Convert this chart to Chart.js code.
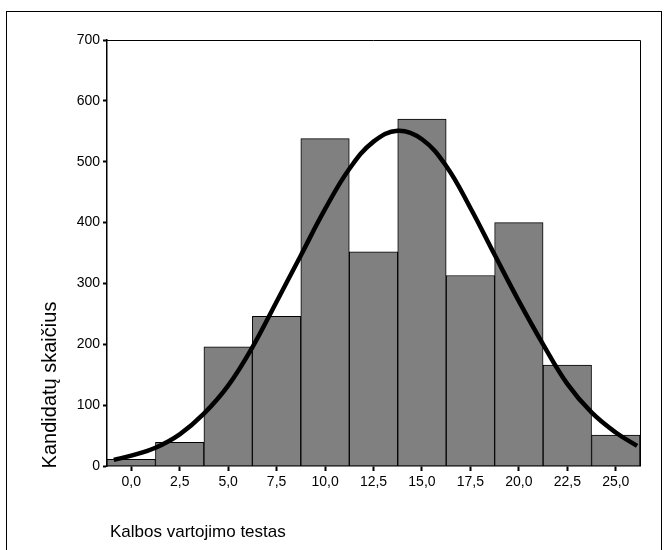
<!DOCTYPE html>
<html>
<head>
<meta charset="utf-8">
<script src="https://cdn.jsdelivr.net/npm/chart.js@4.4.0/dist/chart.umd.min.js"></script>
<style>
	html, body { margin: 0; padding: 0; background: #ffffff; }
	#wrap { position: relative; width: 667px; height: 550px; }
	#frame { position: absolute; left: 6px; top: 11px; width: 656px; height: 560px; border: 1px solid #000; box-sizing: border-box; }
	canvas { position: absolute; left: 0; top: 0; }
</style>
</head>
<body>
<div id="wrap">
	<div id="frame"></div>
	<canvas id="hist" width="667" height="550"></canvas>
</div>
<script>
// histogramos stulpeliai (centrai) ir dažniai
const binCenters = [0, 2.5, 5, 7.5, 10, 12.5, 15, 17.5, 20, 22.5, 25];
const binCounts = [11, 39, 196, 246, 538, 352, 570, 313, 400, 166, 51];

// normaliojo skirstinio kreivė, nuskaityta nuo paveikslo
const curveX = [-0.9, 0, 1.25, 2.5, 3.75, 5, 6.25, 7.5, 8.75, 10, 11.25, 12.5, 13.75, 15, 16.25, 17.5, 18.75, 20, 21.25, 22.5, 23.75, 25, 26.1];
const curveY = [10, 17, 30, 52, 86, 132, 195, 270, 346, 422, 488, 533, 551, 537, 493, 424, 347, 271, 200, 135, 88, 55, 33];

const xTicks = [0, 2.5, 5, 7.5, 10, 12.5, 15, 17.5, 20, 22.5, 25];
const yTicks = [0, 100, 200, 300, 400, 500, 600, 700];

const xTitle = 'Kalbos vartojimo testas';
const yTitle = 'Kandidatų skaičius';

const FONT = 'Arial, "Liberation Sans", sans-serif';

// rėmelis ir ašių pavadinimai
const decorPlugin = {
	id: 'decor',
	afterDraw(chart) {
		const ctx = chart.ctx;
		const a = chart.chartArea;
		ctx.save();
		ctx.strokeStyle = '#000';
		ctx.lineWidth = 1;
		ctx.beginPath();
		ctx.moveTo(a.left, a.top + 0.5);
		ctx.lineTo(a.right + 0.5, a.top + 0.5);
		ctx.lineTo(a.right + 0.5, a.bottom);
		ctx.stroke();

		ctx.fillStyle = '#000';
		ctx.font = '17px ' + FONT;
		ctx.textBaseline = 'alphabetic';
		ctx.textAlign = 'left';
		ctx.fillText(xTitle, 110, 537);

		ctx.font = '20px ' + FONT;
		ctx.translate(56, 385);
		ctx.rotate(-Math.PI / 2);
		ctx.textAlign = 'center';
		ctx.fillText(yTitle, 0, 0);
		ctx.restore();
	}
};

new Chart(document.getElementById('hist'), {
	data: {
		datasets: [
			{
				type: 'line',
				data: curveX.map((x, i) => ({ x: x, y: curveY[i] })),
				borderColor: '#000',
				borderWidth: 4.5,
				pointRadius: 0,
				tension: 0.4,
				fill: false,
				order: 1
			},
			{
				type: 'bar',
				data: binCenters.map((x, i) => ({ x: x, y: binCounts[i] })),
				backgroundColor: '#808080',
				borderColor: '#000',
				borderWidth: 1,
				barPercentage: 1,
				categoryPercentage: 1,
				order: 2
			}
		]
	},
	options: {
		responsive: false,
		animation: false,
		layout: { padding: { left: 64, right: 27, top: 40, bottom: 0 } },
		plugins: {
			legend: { display: false },
			tooltip: { enabled: false }
		},
		scales: {
			x: {
				type: 'linear',
				min: -1.25,
				max: 26.25,
				offset: false,
				afterBuildTicks: s => { s.ticks = xTicks.map(v => ({ value: v })); },
				afterFit: s => { s.height = 84; },
				grid: { display: true, offset: false, drawOnChartArea: false, drawTicks: true, tickLength: 5, tickWidth: 2, tickColor: '#000' },
				border: { display: true, color: '#000', width: 1.5 },
				ticks: {
					color: '#000',
					padding: 3,
					maxRotation: 0,
					font: { family: FONT, size: 14 },
					callback: v => v.toFixed(1).replace('.', ',')
				}
			},
			y: {
				min: 0,
				max: 700,
				afterBuildTicks: s => { s.ticks = yTicks.map(v => ({ value: v })); },
				afterFit: s => { s.width = 43; },
				grid: { display: true, drawOnChartArea: false, drawTicks: true, tickLength: 4, tickWidth: 2, tickColor: '#000' },
				border: { display: true, color: '#000', width: 1.5 },
				ticks: {
					color: '#000',
					padding: 3,
					font: { family: FONT, size: 14 }
				}
			}
		}
	},
	plugins: [decorPlugin]
});
</script>
</body>
</html>
